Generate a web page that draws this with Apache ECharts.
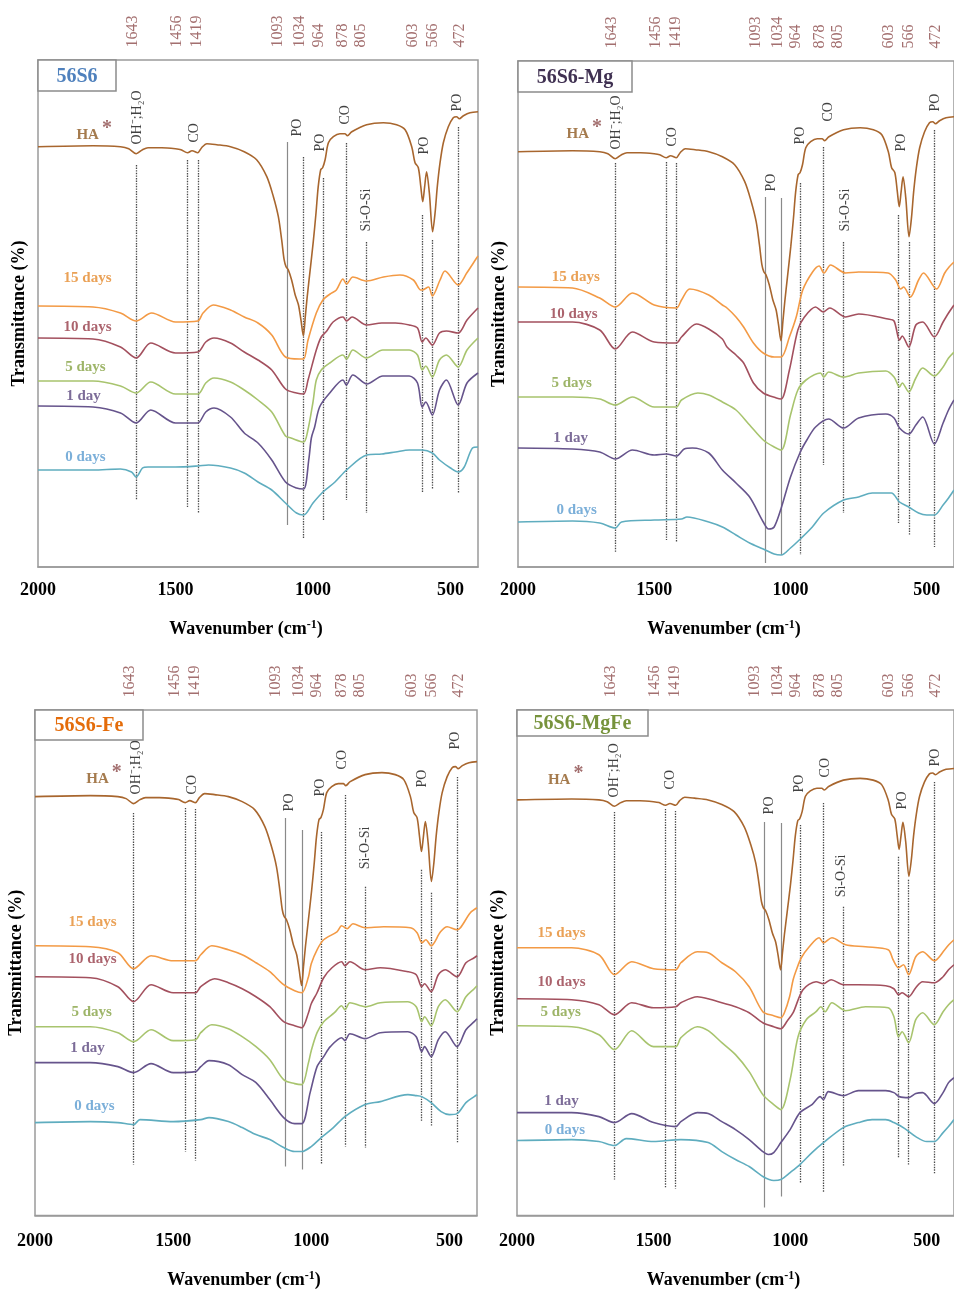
<!DOCTYPE html>
<html><head><meta charset="utf-8">
<script src="https://cdn.jsdelivr.net/npm/echarts@6/dist/echarts.min.js"></script>
<style>html,body{margin:0;padding:0;background:#fff}#c{width:954px;height:1290px}</style>
</head><body><div id="c"></div><script>
// ---------------- DATA ----------------
const wnTicks = [2000, 1500, 1000, 500];
const peakWn = [1643, 1456, 1419, 1093, 1034, 964, 878, 805, 603, 566, 472];
const bandText = ['OH⁻;H₂O', 'CO', 'PO', 'PO', 'CO', 'Si-O-Si', 'PO', 'PO'];
const curveNames = {HA: 'HA', d15: '15 days', d10: '10 days', d5: '5 days', d1: '1 day', d0: '0 days'};
const panelTitles = ['56S6', '56S6-Mg', '56S6-Fe', '56S6-MgFe'];

// HA reference spectrum (relative transmittance vs its 2000 cm-1 level)
const haRel = [[2000,0],[1800,1],[1700,0],[1670,-2],[1643,-7],[1620,-3],[1600,-1],[1550,-1],[1500,-2],[1480,-3],[1456,-6],[1440,-4],[1419,-6],[1405,-1],[1386,3],[1350,2],[1300,0],[1250,-5],[1205,-13],[1168,-30],[1144,-50],[1126,-70],[1114,-93],[1105,-113],[1098,-120],[1090,-123],[1078,-133],[1065,-148],[1053,-158],[1044,-173],[1035,-189],[1028,-170],[1021,-150],[1011,-125],[999,-95],[989,-66],[981,-40],[972,-23],[965,-21],[956,-13],[944,4],[926,10],[902,13],[884,13],[875,11],[859,15],[805,22],[744,24],[696,22],[665,17],[641,0],[629,-16],[617,-21],[608,-40],[601,-55],[594,-40],[587,-25],[577,-46],[565,-85],[556,-66],[548,-40],[538,-16],[526,4],[508,20],[490,29],[478,30],[468,28],[453,31],[429,34],[400,35]];

// 56S6
const d56S6_15 = [[2000,261],[1800,260],[1700,254],[1643,246],[1587,254],[1500,245],[1419,246],[1400,254],[1363,262],[1300,257],[1250,250],[1200,244],[1150,232],[1100,210],[1050,208],[1034,208],[1018,227],[988,254],[964,267],[938,273],[915,277],[891,288],[878,283],[855,290],[805,286],[744,290],[684,292],[635,287],[608,277],[603,277],[580,280],[566,271],[538,287],[520,296],[472,282],[441,294],[405,309],[400,311]];
const d56S6_10 = [[2000,229],[1800,228],[1700,220],[1643,209],[1590,224],[1500,214],[1419,215],[1390,225],[1360,229],[1300,224],[1250,215],[1200,207],[1150,197],[1100,178],[1060,174],[1034,173],[1018,187],[988,217],[970,230],[950,236],[927,245],[891,250],[878,246],[858,250],[805,242],[750,244],[700,244],[650,242],[620,239],[603,225],[590,229],[566,222],[540,234],[515,236],[472,234],[440,247],[400,259]];
const d56S6_5 = [[2000,186],[1800,186],[1700,181],[1643,174],[1590,185],[1500,173],[1419,173],[1390,184],[1360,189],[1300,185],[1250,177],[1200,167],[1150,155],[1100,131],[1080,129],[1034,125],[1020,135],[1000,165],[988,187],[970,197],[939,204],[891,212],[878,208],[855,217],[806,209],[746,217],[650,217],[620,212],[603,197],[590,201],[566,190],[540,207],[515,212],[472,200],[440,217],[400,229]];
const d56S6_1 = [[2000,161],[1800,160],[1700,154],[1643,144],[1590,157],[1500,144],[1456,144],[1419,144],[1390,155],[1360,159],[1300,150],[1250,134],[1200,124],[1150,107],[1100,85],[1060,79],[1034,78],[1015,108],[1006,129],[994,140],[976,160],[939,174],[891,187],[879,182],[855,192],[804,183],[746,191],[650,191],[620,184],[603,160],[590,165],[566,152],[540,177],[515,187],[472,162],[440,184],[400,194]];
const d56S6_0 = [[2000,97],[1800,97],[1700,98],[1660,95],[1643,90],[1620,99],[1600,100],[1500,100],[1419,101],[1380,102],[1300,99],[1250,94],[1200,85],[1150,77],[1100,64],[1060,54],[1034,52],[1000,64],[964,75],[920,85],[878,97],[805,112],[750,113],[700,115],[650,117],[603,117],[566,114],[540,107],[500,99],[472,95],[450,100],[420,119],[400,120]];
const vl56S6 = [[1643,402,67],[1456,407,60],[1419,407,54],[1093,425,42],[1034,410,29],[964,389,47],[878,424,67],[805,325,54],[603,352,75],[566,327,78],[472,440,74]];

// 56S6-Mg
const dMg_15 = [[2000,280],[1800,279],[1700,269],[1643,260],[1580,274],[1500,262],[1419,259],[1400,267],[1370,278],[1300,272],[1250,262],[1233,259],[1200,250],[1172,240],[1136,224],[1100,214],[1060,210],[1034,210],[1004,230],[979,250],[955,277],[919,295],[895,301],[877,294],[853,302],[798,294],[750,295],[642,294],[614,287],[596,278],[585,280],[560,270],[530,287],[512,294],[464,278],[434,294],[418,300],[400,305]];
const dMg_10 = [[2000,245],[1800,245],[1700,237],[1643,218],[1580,235],[1500,225],[1419,224],[1400,230],[1345,243],[1300,238],[1250,228],[1233,220],[1200,212],[1172,204],[1136,184],[1100,174],[1052,169],[1034,168],[1004,197],[973,237],[949,250],[908,260],[880,255],[856,259],[798,250],[750,253],[642,248],[620,246],[600,227],[590,231],[566,220],[540,242],[515,245],[472,230],[440,245],[420,254],[400,262]];
const dMg_5 = [[2000,170],[1800,170],[1700,168],[1643,162],[1580,170],[1500,160],[1419,160],[1400,167],[1340,174],[1300,172],[1250,165],[1200,157],[1150,142],[1100,127],[1060,120],[1034,117],[1000,152],[973,177],[943,187],[890,194],[878,190],[860,195],[805,190],[750,194],[650,196],[620,190],[600,180],[590,184],[566,175],[540,189],[515,199],[472,191],[440,200],[420,209],[400,215]];
const dMg_1 = [[2000,119],[1800,118],[1700,115],[1643,108],[1580,117],[1500,112],[1456,113],[1419,111],[1390,118],[1360,119],[1300,114],[1250,97],[1200,84],[1150,70],[1100,45],[1080,38],[1060,40],[1034,59],[1000,90],[964,115],[940,127],[908,140],[860,148],[805,139],[750,149],[650,153],[620,149],[600,139],[566,133],[540,142],[515,150],[472,123],[440,144],[420,157],[400,167]];
const dMg_0 = [[2000,45],[1800,46],[1700,44],[1643,39],[1620,45],[1500,47],[1400,48],[1380,50],[1300,45],[1250,40],[1200,32],[1150,24],[1100,18],[1060,13],[1034,12],[1000,19],[964,28],[920,40],[878,54],[805,67],[750,70],[700,74],[630,74],[600,65],[566,60],[530,54],[500,52],[472,52],[440,62],[420,69],[400,77]];
const vlMg = [[1643,404,15],[1456,405,27],[1419,404,25],[1093,370,4],[1034,369,12],[964,384,12],[878,420,102],[805,325,54],[603,352,44],[566,325,32],[472,437,20]];

// 56S6-Fe
const dFe_15 = [[2000,270],[1800,269],[1700,263],[1643,247],[1580,260],[1500,255],[1419,255],[1400,261],[1360,270],[1300,266],[1250,261],[1200,253],[1150,244],[1100,231],[1060,225],[1034,223],[1010,239],[1000,252],[979,266],[955,276],[907,284],[890,290],[870,287],[849,292],[805,288],[738,289],[641,288],[617,283],[599,273],[585,276],[566,270],[532,284],[508,289],[472,286],[460,288],[424,303],[400,308]];
const dFe_10 = [[2000,239],[1800,238],[1700,229],[1643,214],[1580,231],[1500,223],[1419,223],[1400,229],[1350,237],[1300,233],[1250,227],[1200,219],[1150,209],[1100,194],[1060,190],[1034,188],[1010,203],[1000,212],[979,223],[955,238],[925,248],[890,254],[878,250],[860,254],[805,246],[750,248],[650,244],[620,241],[600,229],[590,232],[566,224],[540,241],[515,246],[472,239],[440,253],[410,258],[400,260]];
const dFe_5 = [[2000,189],[1800,189],[1700,183],[1643,174],[1580,186],[1500,175],[1419,176],[1400,183],[1360,191],[1300,187],[1250,179],[1200,169],[1150,156],[1100,136],[1060,132],[1034,131],[1010,153],[1000,165],[979,183],[955,194],[916,203],[890,210],[878,206],[860,213],[805,209],[750,213],[650,214],[620,209],[600,194],[590,199],[566,190],[540,209],[515,216],[472,204],[440,219],[410,227],[400,230]];
const dFe_1 = [[2000,153],[1800,153],[1700,149],[1643,143],[1580,152],[1500,143],[1419,144],[1400,149],[1370,155],[1300,151],[1250,141],[1200,133],[1150,116],[1100,98],[1060,92],[1034,92],[1004,123],[979,149],[955,159],[931,169],[890,178],[878,175],[860,182],[805,177],[750,183],[650,184],[620,179],[600,164],[590,169],[566,159],[540,176],[515,184],[472,169],[440,186],[410,194],[400,197]];
const dFe_0 = [[2000,93],[1800,94],[1700,93],[1643,91],[1620,96],[1500,94],[1400,96],[1370,98],[1300,94],[1250,88],[1200,81],[1150,76],[1100,68],[1060,64],[1034,64],[1000,69],[964,78],[920,88],[878,99],[805,111],[750,114],[650,121],[620,120],[600,119],[566,113],[530,104],[500,101],[472,102],[440,113],[410,119],[400,121]];
const vlFe = [[1643,403,51],[1456,408,64],[1419,407,55],[1093,398,49],[1034,386,46],[964,384,51],[878,421,69],[805,329,68],[603,346,94],[566,323,89],[472,439,73]];

// 56S6-MgFe
const dMgFe_15 = [[2000,268],[1800,268],[1700,261],[1643,241],[1580,254],[1500,247],[1419,246],[1400,253],[1340,264],[1300,263],[1250,253],[1200,244],[1150,229],[1100,204],[1060,200],[1034,198],[1021,203],[1002,219],[989,236],[977,246],[959,258],[930,269],[894,278],[878,273],[847,278],[797,271],[724,269],[641,266],[623,256],[603,248],[585,251],[566,241],[540,259],[515,264],[472,255],[434,266],[419,271],[400,276]];
const dMgFe_10 = [[2000,217],[1800,216],[1700,211],[1643,201],[1580,213],[1500,208],[1419,209],[1400,213],[1340,219],[1300,217],[1250,213],[1200,209],[1150,203],[1100,193],[1060,189],[1034,187],[1010,195],[989,203],[953,226],[905,234],[878,232],[850,236],[805,231],[750,231],[650,230],[620,227],[603,221],[590,223],[566,219],[540,228],[515,234],[472,233],[440,239],[420,246],[400,251]];
const dMgFe_5 = [[2000,190],[1800,189],[1700,181],[1643,166],[1580,185],[1500,169],[1419,169],[1400,178],[1340,189],[1300,185],[1250,173],[1200,161],[1150,144],[1100,121],[1060,111],[1034,106],[1000,136],[971,179],[941,196],[905,204],[887,209],[872,204],[847,213],[797,205],[724,209],[641,208],[620,199],[603,179],[590,184],[566,173],[540,196],[515,203],[472,191],[440,204],[420,211],[400,216]];
const dMgFe_1 = [[2000,103],[1800,103],[1700,99],[1643,93],[1580,102],[1500,93],[1419,89],[1400,94],[1340,103],[1300,102],[1250,94],[1200,86],[1150,76],[1100,64],[1080,61],[1060,63],[1034,73],[1000,86],[964,103],[920,111],[890,119],[878,116],[860,124],[805,120],[750,125],[650,125],[620,123],[600,119],[566,118],[540,122],[515,123],[472,112],[440,123],[420,133],[400,138]];
const dMgFe_0 = [[2000,75],[1800,76],[1700,74],[1643,70],[1600,77],[1500,74],[1400,76],[1300,73],[1250,64],[1200,56],[1150,49],[1100,39],[1060,35],[1034,36],[1000,43],[964,51],[920,63],[878,73],[805,88],[750,93],[700,96],[650,96],[620,93],[580,87],[540,79],[500,74],[472,74],[440,83],[420,89],[400,96]];
const vlMgFe = [[1643,404,36],[1456,407,27],[1419,405,27],[1093,394,8],[1034,393,19],[964,391,33],[878,413,23],[805,309,49],[603,359,58],[566,336,51],[472,434,41]];

// ---------------- STYLE / LAYOUT ----------------
const SERIF = "'Liberation Serif','Times New Roman',serif";
const lineColor = {HA: '#a8662e', d15: '#f39a45', d10: '#a3505e', d5: '#a8c46e', d1: '#66548c', d0: '#5fadbf'};
const textColor = {HA: '#8e5a22', d15: '#e58a2c', d10: '#963c48', d5: '#86a244', d1: '#5b477e', d0: '#5a9bd0'};
const peakNudge = [-3, -10, 0, -9, -3, -4, -3, -5, -9, 1, 2];

const layouts = [
  {left: 38, top: 60, width: 440, height: 507, haBase: 420.3, haScale: 1, box: [38, 60, 78, 31], titleColor: '#4f81bd',
   band: [[1637,422],[1430,424],[1056,430],[972,415],[881,442],[805,335],[594,412],[474,455]],
   names: {HA: [1794,431], d15: [1818,288], d10: [1818,239], d5: [1826,199], d1: [1833,170], d0: [1826,109]},
   solid: [1093], labMargin: 14, nameGap: 52, yGap: 10},
  {left: 518, top: 61, width: 442, height: 506, haBase: 415.3, haScale: 1, box: [518, 61, 114, 31], titleColor: '#403152',
   band: [[1637,417],[1432,420],[1070,375],[961,422],[860,445],[798,335],[593,415],[467,455]],
   names: {HA: [1755,432], d15: [1786,289], d10: [1794,252], d5: [1801,183], d1: [1805,128], d0: [1783,56]},
   solid: [1093, 1034], labMargin: 14, nameGap: 52, yGap: 10},
  {left: 35, top: 710, width: 442, height: 506, haBase: 419.3, haScale: 1, box: [35, 710, 108, 30], titleColor: '#e46c0a',
   band: [[1632,421],[1429,421],[1076,404],[967,419],[884,446],[804,346],[595,428],[475,466]],
   names: {HA: [1748,436], d15: [1790,293], d10: [1790,256], d5: [1793,203], d1: [1808,167], d0: [1783,109]},
   solid: [1093, 1034], labMargin: 17, nameGap: 54, yGap: 10},
  {left: 517, top: 710, width: 443, height: 506, haBase: 416, haScale: 0.9, box: [517, 710, 131, 26], titleColor: '#77933c',
   band: [[1640,418],[1435,426],[1074,401],[965,423],[871,438],[811,318],[589,406],[465,449]],
   names: {HA: [1820,435], d15: [1835,282], d10: [1835,233], d5: [1838,203], d1: [1835,114], d0: [1823,85]},
   solid: [1093, 1034], labMargin: 17, nameGap: 54, yGap: 10}
];

const panelData = [
  {d15: d56S6_15, d10: d56S6_10, d5: d56S6_5, d1: d56S6_1, d0: d56S6_0, vl: vl56S6},
  {d15: dMg_15, d10: dMg_10, d5: dMg_5, d1: dMg_1, d0: dMg_0, vl: vlMg},
  {d15: dFe_15, d10: dFe_10, d5: dFe_5, d1: dFe_1, d0: dFe_0, vl: vlFe},
  {d15: dMgFe_15, d10: dMgFe_10, d5: dMgFe_5, d1: dMgFe_1, d0: dMgFe_0, vl: vlMgFe}
];

// ---------------- BUILD ----------------
const option = {animation: false, backgroundColor: '#fff', grid: [], xAxis: [], yAxis: [], series: [], graphic: []};
const frame = '#9a9a9a';

layouts.forEach((L, i) => {
  const D = panelData[i];
  option.grid.push({left: L.left, top: L.top, width: L.width, height: L.height, show: true,
    borderColor: frame, borderWidth: 1.5, backgroundColor: 'transparent'});
  option.xAxis.push({gridIndex: i, type: 'value', inverse: true, min: 400, max: 2000,
    axisLine: {show: true, lineStyle: {color: frame, width: 1.5}}, axisTick: {show: false}, splitLine: {show: false},
    axisLabel: {customValues: wnTicks, formatter: v => String(v), margin: L.labMargin, fontFamily: SERIF,
      fontWeight: 'bold', fontSize: 18, color: '#000'},
    name: '{n|Wavenumber (cm}{s|-1}{n|)}', nameLocation: 'middle', nameGap: L.nameGap,
    nameTextStyle: {padding: [0, 24, 0, 0], rich: {
      n: {fontFamily: SERIF, fontWeight: 'bold', fontSize: 18, color: '#000'},
      s: {fontFamily: SERIF, fontWeight: 'bold', fontSize: 12, color: '#000', padding: [0, 0, 9, 0]}}}});
  option.yAxis.push({gridIndex: i, type: 'value', min: 0, max: L.height,
    axisLine: {show: false}, axisTick: {show: false}, axisLabel: {show: false}, splitLine: {show: false},
    name: 'Transmittance (%)', nameLocation: 'middle', nameGap: L.yGap,
    nameTextStyle: {fontFamily: SERIF, fontWeight: 'bold', fontSize: 18, color: '#000'}});

  // guide lines
  option.series.push({type: 'lines', coordinateSystem: 'cartesian2d', xAxisIndex: i, yAxisIndex: i, silent: true, z: 2,
    data: D.vl.map(([w, t1, t2]) => ({coords: [[w, t1], [w, t2]],
      lineStyle: L.solid.includes(w) ? {color: '#8a8a8a', width: 1.2, type: 'solid', opacity: 1}
                                     : {color: '#4a4a4a', width: 1.3, type: [1.4, 1.2], opacity: 1}}))});

  // spectra
  const ha = haRel.map(([w, r]) => [w, L.haBase + r * L.haScale]);
  const curves = {HA: ha, d15: D.d15, d10: D.d10, d5: D.d5, d1: D.d1, d0: D.d0};
  Object.keys(curves).forEach(k => {
    option.series.push({type: 'line', name: curveNames[k] + ' ' + i, xAxisIndex: i, yAxisIndex: i, data: curves[k],
      showSymbol: false, smooth: 0.3, silent: true, z: 3,
      lineStyle: {color: lineColor[k], width: 1.6}});
  });

  // texts
  const items = [];
  peakWn.forEach((w, j) => items.push({value: [w, L.height + 12], label: {show: true, formatter: String(w), rotate: 90,
    align: 'left', verticalAlign: 'middle', position: [peakNudge[j], 0], fontFamily: SERIF, fontSize: 16, color: '#8c4b4b'}}));
  L.band.forEach((pos, j) => items.push({value: pos, label: {show: true, formatter: bandText[j], rotate: 90,
    align: 'left', verticalAlign: 'middle', position: [0, 0], fontFamily: SERIF, fontSize: 14, color: '#111'}}));
  Object.keys(L.names).forEach(k => {
    const base = {show: true, position: [0, 0], align: 'center', verticalAlign: 'middle', fontFamily: SERIF,
      fontWeight: 'bold', fontSize: 15, color: textColor[k]};
    if (k === 'HA') {
      base.formatter = '{h|HA}{s|*}';
      base.rich = {h: {fontFamily: SERIF, fontWeight: 'bold', fontSize: 15, color: textColor.HA},
                   s: {fontFamily: SERIF, fontWeight: 'bold', fontSize: 20, color: '#8c4b4b', padding: [0, 0, 14, 3]}};
    } else base.formatter = curveNames[k];
    items.push({value: L.names[k], label: base});
  });
  option.series.push({type: 'scatter', xAxisIndex: i, yAxisIndex: i, symbolSize: 1, clip: false, silent: true, z: 10,
    itemStyle: {color: 'rgba(0,0,0,0)'}, data: items});

  // title box
  const [bx, by, bw, bh] = L.box;
  option.graphic.push({type: 'rect', z: 100, shape: {x: bx, y: by, width: bw, height: bh},
    style: {fill: '#fff', stroke: '#8c8c8c', lineWidth: 1.5}});
  option.graphic.push({type: 'text', z: 101, x: bx + bw / 2, y: by + bh / 2 + 1,
    style: {text: panelTitles[i], fill: L.titleColor, font: 'bold 20px ' + SERIF, align: 'center', verticalAlign: 'middle'}});
});

const chart = echarts.init(document.getElementById('c'), null, {renderer: 'canvas'});
chart.setOption(option);
</script></body></html>
